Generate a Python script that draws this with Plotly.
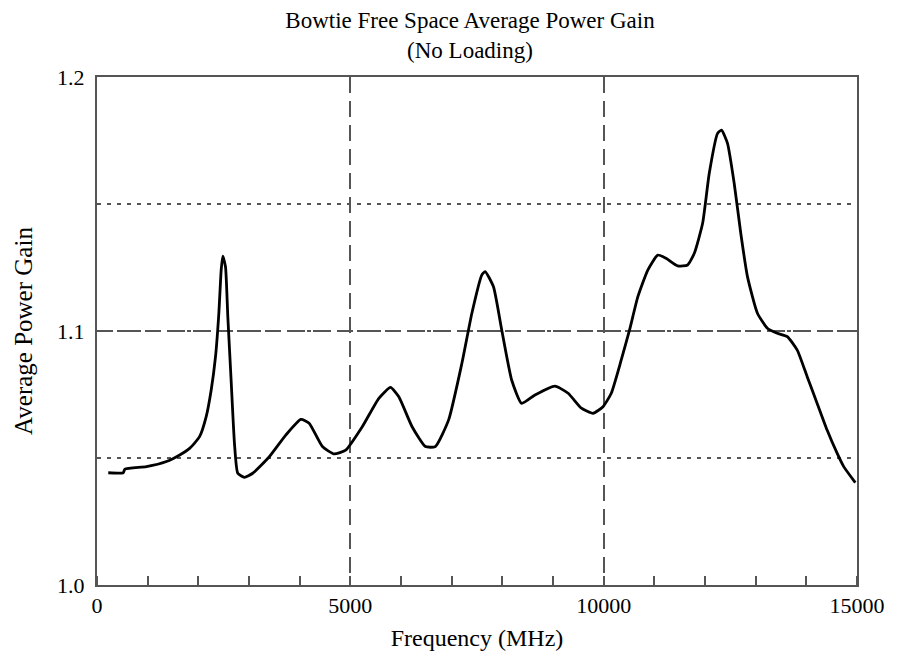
import plotly.graph_objects as go

# Frequency (MHz)
freq = [222, 517, 550, 977, 1370, 1632, 1828, 2024, 2155, 2254, 2339, 2405, 2451, 2483,
        2536, 2582, 2647, 2713, 2778, 2909, 3073, 3401, 3729, 4024, 4187, 4449, 4679,
        4908, 5235, 5563, 5793, 5957, 6219, 6481, 6678, 6940, 7202, 7399, 7594, 7661,
        7825, 7988, 8184, 8381, 8644, 9037, 9299, 9561, 9790, 9987, 10150, 10347, 10511,
        10675, 10871, 11068, 11231, 11461, 11657, 11789, 11953, 12084, 12248, 12326,
        12444, 12576, 12706, 12838, 13035, 13231, 13427, 13624, 13821, 14017, 14214,
        14410, 14607, 14738, 14967]
# Average power gain
gain = [1.0442, 1.0442, 1.0456, 1.0466, 1.0486, 1.0512, 1.0538, 1.0584, 1.0663, 1.0768,
        1.0899, 1.1070, 1.1240, 1.1295, 1.1253, 1.1056, 1.0807, 1.0558, 1.0440, 1.0424,
        1.0440, 1.0505, 1.0591, 1.0652, 1.0637, 1.0545, 1.0516, 1.0531, 1.0623, 1.0735,
        1.0778, 1.0741, 1.0623, 1.0545, 1.0545, 1.0650, 1.0873, 1.1070, 1.1220, 1.1234,
        1.1174, 1.1004, 1.0807, 1.0715, 1.0748, 1.0783, 1.0755, 1.0696, 1.0676, 1.0702,
        1.0755, 1.0886, 1.1004, 1.1135, 1.1240, 1.1299, 1.1286, 1.1256, 1.1260, 1.1306,
        1.1424, 1.1621, 1.1778, 1.1791, 1.1739, 1.1582, 1.1385, 1.1214, 1.1070, 1.1011,
        1.0991, 1.0978, 1.0925, 1.0820, 1.0715, 1.0610, 1.0519, 1.0466, 1.0403]

x_ticks = [0, 5000, 10000, 15000]
x_tick_text = ["0", "5000", "10000", "15000"]
y_ticks = [1.0, 1.1, 1.2]
y_tick_text = ["1.0", "1.1", "1.2"]

FONT = "Liberation Serif"

fig = go.Figure()
fig.add_trace(go.Scatter(x=freq, y=gain, mode="lines",
                         line=dict(color="black", width=2.8, shape="spline", smoothing=0.5),
                         showlegend=False, hoverinfo="skip"))

fig.update_layout(
    width=897, height=659,
    margin=dict(l=97, r=37, t=77, b=74),
    paper_bgcolor="white", plot_bgcolor="white",
    font=dict(family=FONT, size=23, color="black"),
    title=dict(text="Bowtie Free Space Average Power Gain<br>(No Loading)",
               x=470/897, xref="container", xanchor="center",
               y=1 - 28/659, yref="container", yanchor="middle",
               font=dict(family=FONT, size=23, color="black")),
)
fig.update_xaxes(
    range=[0, 15000], tickvals=x_ticks, ticktext=x_tick_text, ticks="",
    showline=True, mirror=True, linecolor="#555555", linewidth=2,
    showgrid=True, gridcolor="#555555", gridwidth=1.5, griddash="16px,8px",
    zeroline=False,
    tickfont=dict(family=FONT, size=22),
    title=dict(text="Frequency (MHz)", standoff=12, font=dict(family=FONT, size=24)),
    minor=dict(dtick=1000, tick0=0, ticks="inside", ticklen=9, tickcolor="#555555",
               tickwidth=1.5, showgrid=False),
)
fig.update_yaxes(
    range=[1.0, 1.2], tickvals=y_ticks, ticktext=y_tick_text, ticks="",
    ticklabelstandoff=6,
    showline=True, mirror=True, linecolor="#555555", linewidth=2,
    showgrid=True, gridcolor="#555555", gridwidth=1.5, griddash="16px,8px",
    zeroline=False,
    tickfont=dict(family=FONT, size=22),
    title=dict(text="Average Power Gain", standoff=17, font=dict(family=FONT, size=25)),
    minor=dict(dtick=0.05, tick0=1.0, ticks="", showgrid=True, gridcolor="#555555",
               gridwidth=1.5, griddash="4px,6px"),
)

fig.write_html("out.html")
